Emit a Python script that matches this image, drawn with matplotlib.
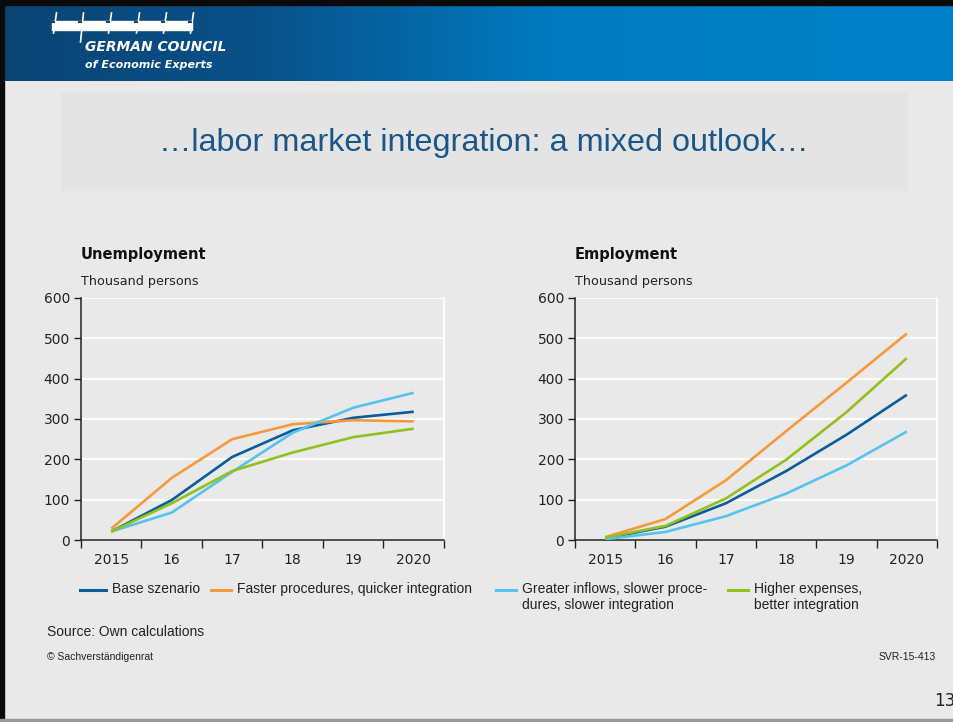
import numpy as np
import matplotlib
matplotlib.use("Agg")
import matplotlib.pyplot as plt
from matplotlib import font_manager
from matplotlib.lines import Line2D
from matplotlib.patches import Rectangle

# data (thousand persons)
years = ["2015", "16", "17", "18", "19", "2020"]
series_names = ["Base szenario", "Faster procedures, quicker integration",
                "Greater inflows, slower proce-\ndures, slower integration",
                "Higher expenses,\nbetter integration"]
colors = ["#0b5c9c", "#f7993b", "#55c3f0", "#93c01f"]

unemp_base = [21, 99, 206, 272, 303, 318]
unemp_faster = [28, 154, 250, 287, 297, 294]
unemp_inflows = [21, 68, 169, 266, 328, 365]
unemp_expenses = [21, 91, 171, 217, 255, 276]

emp_base = [4, 33, 91, 171, 261, 360]
emp_faster = [7, 52, 148, 270, 390, 512]
emp_inflows = [2, 20, 59, 115, 185, 269]
emp_expenses = [6, 35, 103, 199, 317, 451]

yticks = [0, 100, 200, 300, 400, 500, 600]

names = {f.name for f in font_manager.fontManager.ttflist}
narrow = "Liberation Sans Narrow" if "Liberation Sans Narrow" in names else "Liberation Sans"

W, H = 954, 722
BG = "#e9e9e9"
fig = plt.figure(figsize=(W / 100, H / 100), dpi=100, facecolor=BG)

# background layer in pixel coordinates
bg = fig.add_axes([0, 0, 1, 1], zorder=0)
bg.set_xlim(0, W)
bg.set_ylim(H, 0)
bg.axis("off")

# blue header band
stops_x = [0, 250, 560, W]
stops_c = np.array([[10, 68, 116], [9, 80, 136], [0, 124, 194], [0, 130, 200]]) / 255
xs = np.arange(W)
grad = np.stack([np.interp(xs, stops_x, stops_c[:, k]) for k in range(3)], axis=-1)
bg.imshow(grad[np.newaxis, :, :], extent=(0, W, 81, 5), aspect="auto", zorder=1)
bg.add_patch(Rectangle((0, 0), W, 5, color="#0a0a0a", zorder=2))
bg.add_patch(Rectangle((0, 0), 4, H, color="#0a0a0a", zorder=2))
bg.add_patch(Rectangle((0, H - 3), W, 3, color="#9a9a9a", zorder=2))

# logo
bg.add_patch(Rectangle((52, 21), 140, 9, color="white", zorder=3))
for lx in [55, 82, 110, 138, 165, 192]:
    bg.plot([lx + 1.5, lx - 1.5], [13, 42 if lx == 82 else 33], color="white", lw=1.2, zorder=4)
    bg.plot([lx - 3, lx - 1], [22, 22], color="#0b4878", lw=1.5, zorder=4)
bg.text(85, 47, "GERMAN COUNCIL", color="white", fontsize=10, fontweight="bold",
        style="italic", va="center", ha="left", zorder=5)
bg.text(85, 65, "of Economic Experts", color="white", fontsize=8, fontweight="bold",
        style="italic", va="center", ha="left", zorder=5)

# title box
bg.add_patch(Rectangle((61, 93), 846, 97, color="#e4e4e4", zorder=1))
bg.text(484, 143, "\u2026labor market integration: a mixed outlook\u2026", color="#1a5689",
        fontsize=23.3, family=narrow, ha="center", va="center", zorder=5)


def draw_panel(rect, title, data):
    ax = fig.add_axes(rect, zorder=2)
    ax.set_facecolor(BG)
    x = np.arange(len(years)) + 0.5
    for vals, c in zip(data, colors):
        ax.plot(x, vals, color=c, lw=1.9, solid_capstyle="butt", zorder=3)
    ax.set_xlim(0, len(years))
    ax.set_ylim(0, 600)
    ax.set_yticks(yticks)
    ax.grid(axis="y", color="white", lw=1.3, zorder=1)
    ax.set_axisbelow(True)
    ax.set_xticks(np.arange(len(years) + 1))
    ax.set_xticklabels([])
    ax.set_xticks(x, minor=True)
    ax.set_xticklabels(years, minor=True)
    ax.tick_params(axis="x", which="major", direction="out", length=6, width=1, color="#222222")
    ax.tick_params(axis="x", which="minor", length=0, pad=9, labelsize=10, labelcolor="#222222")
    ax.tick_params(axis="y", direction="out", length=5, width=1, color="#222222",
                   labelsize=10, labelcolor="#222222", pad=3)
    for s in ["left", "bottom"]:
        ax.spines[s].set_color("#222222")
        ax.spines[s].set_linewidth(1.1)
    ax.spines["top"].set_visible(False)
    ax.spines["right"].set_color("white")
    ax.spines["right"].set_linewidth(1.3)
    left_px = rect[0] * W
    bg.text(left_px, 255, title, fontsize=10.5, fontweight="bold", color="#111111",
            ha="left", va="center", zorder=5)
    bg.text(left_px, 281, "Thousand persons", fontsize=9.2, color="#222222",
            ha="left", va="center", zorder=5)
    return ax


def px_rect(x0, x1, y0, y1):
    return [x0 / W, 1 - y1 / H, (x1 - x0) / W, (y1 - y0) / H]


draw_panel(px_rect(81, 444, 298, 540), "Unemployment",
           [unemp_base, unemp_faster, unemp_inflows, unemp_expenses])
draw_panel(px_rect(575, 937, 298, 540), "Employment",
           [emp_base, emp_faster, emp_inflows, emp_expenses])

# legend
leg_pos = [(80, 106), (211, 231), (496, 516), (728, 748)]
for (x0, x1), name, c in zip(leg_pos, series_names, colors):
    bg.add_line(Line2D([x0, x1], [590, 590], color=c, lw=2.2, zorder=5))
    bg.text(x1 + 6, 582, name, fontsize=10, family=narrow, color="#222222",
            ha="left", va="top", linespacing=1.15, zorder=5)

bg.text(47, 632, "Source: Own calculations", fontsize=10, family=narrow,
        color="#222222", ha="left", va="center", zorder=5)
bg.text(47, 657, "\u00a9 Sachverst\u00e4ndigenrat", fontsize=7.5, family=narrow,
        color="#222222", ha="left", va="center", zorder=5)
bg.text(936, 657, "SVR-15-413", fontsize=7.5, family=narrow,
        color="#222222", ha="right", va="center", zorder=5)
bg.text(955, 701, "13", fontsize=12, color="#222222", ha="right", va="center", zorder=5)

fig.savefig("out.png", dpi=100, facecolor=BG)
